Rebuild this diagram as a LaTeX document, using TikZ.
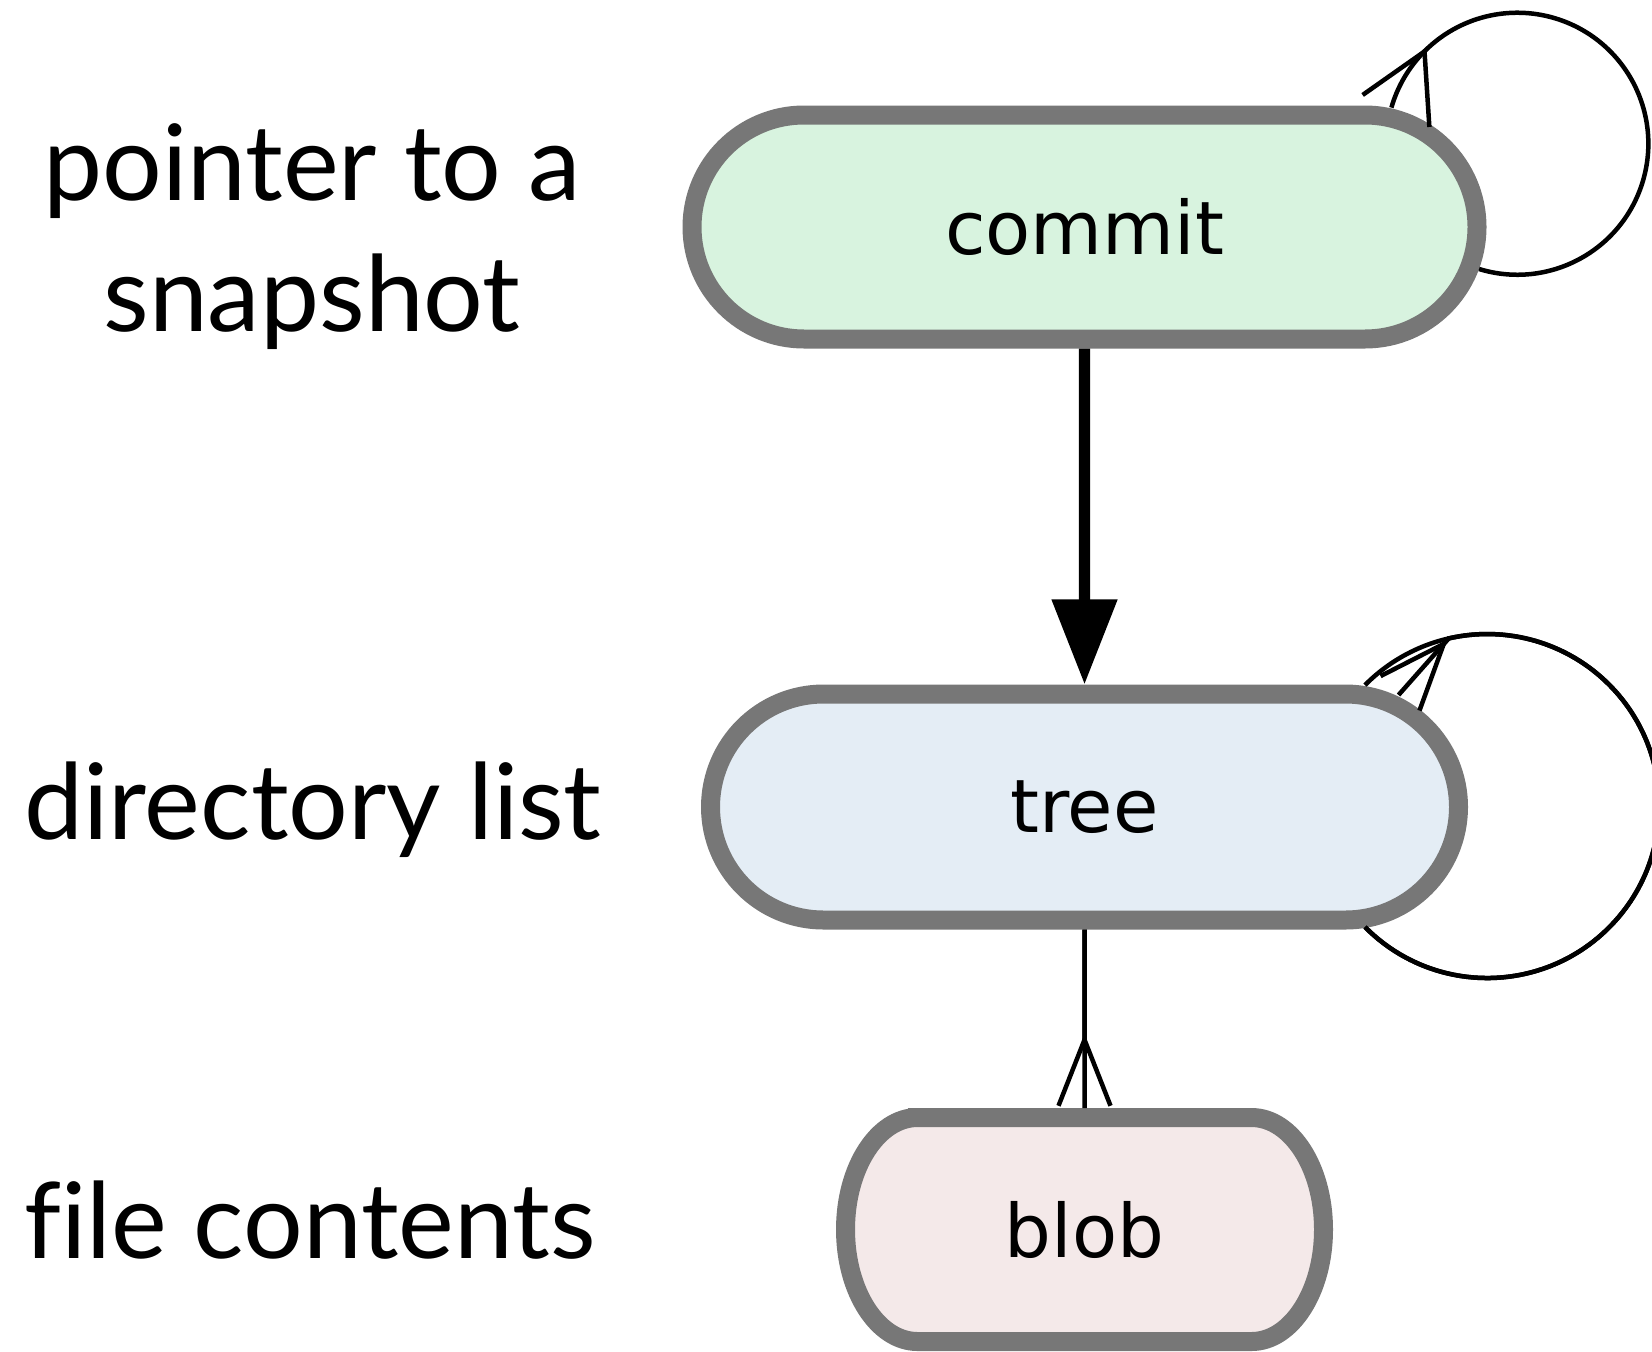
\documentclass[tikz,border=0pt]{standalone}
\usepackage{fontspec}
\setmainfont{Lato}[Ligatures=NoCommon]
\newfontfamily\objfont{DejaVu Sans}
\usetikzlibrary{arrows.meta,bending,positioning,shapes.misc,backgrounds}
\definecolor{objGray}{HTML}{777777}
\definecolor{commitFill}{HTML}{D8F3DF}
\definecolor{treeFill}{HTML}{E4EDF5}
\definecolor{blobFill}{HTML}{F4E9E9}

\begin{document}
\begin{tikzpicture}[
  obj/.style={rounded rectangle, draw=objGray, line width=0.19cm, inner sep=0pt,
    font=\objfont\fontsize{21}{25}\selectfont},
  blobbox/.style={rectangle, inner sep=0pt, outer sep=0pt,
    font=\objfont\fontsize{21}{25}\selectfont,
    path picture={
      \draw[draw=objGray, fill=blobFill, line width=0.19cm]
        ([xshift=0.815cm, yshift=-0.095cm]path picture bounding box.north west)
        -- ([xshift=-0.815cm, yshift=-0.095cm]path picture bounding box.north east)
        arc[start angle=90, end angle=-90, x radius=0.72cm, y radius=1.12cm]
        -- ([xshift=0.815cm, yshift=0.095cm]path picture bounding box.south west)
        arc[start angle=270, end angle=90, x radius=0.72cm, y radius=1.12cm]
        -- cycle;
    }},
  lbl/.style={font=\fontsize{30}{37.3}\selectfont, align=center},
  hasone/.style={-{Triangle[length=0.85cm,width=0.63cm]}, line width=0.113cm},
  plain/.style={line width=0.045cm},
  crow/.style={plain, -{Straight Barb[reversed,sharp,length=0.66cm,width=#1]}},
  crow/.default=0.52cm,
  many/.style={crow=#1, postaction={draw, -}},
  many/.default=0.52cm,
]
\useasboundingbox (0,0) rectangle (16.52,-13.51);

% objects
\node[obj, fill=commitFill, minimum width=7.85cm, minimum height=2.24cm] (commit) at (10.845,-2.27) {commit};
\node[obj, fill=treeFill, minimum width=7.48cm, minimum height=2.26cm] (tree) at (10.845,-8.07) {tree};
\node[blobbox, minimum width=4.97cm, minimum height=2.43cm] (blob) at (10.845,-12.295) {blob};

% what they stand for
\node[lbl] (snaplbl) at (3.12,-2.37) {pointer to a\\snapshot};
\node[lbl, anchor=base] (dirlbl) at (3.13,-8.39) {directory list};
\node[lbl, anchor=base] (filelbl) at (3.10,-12.58) {file contents};

% links
\draw[hasone] (commit) -- (tree);
\draw[many] (tree) -- (blob);
\draw[crow=0.74cm] ([shift={(-0.075,-0.42)}]commit.east) arc[start angle=-107, end angle=135, radius=1.31]
  coordinate (commitjoin) -- ([shift={(-0.915,1.14)}]commit.east);
\draw[plain] (commitjoin) arc[start angle=135, end angle=164, radius=1.31];
\draw[many] ([shift={(-1.03,-1.20)}]tree.east) arc[start angle=-135.3, end angle=103, radius=1.72]
  coordinate (treejoin) -- ([shift={(-0.695,1.12)}]tree.east);
\draw[plain] (treejoin) arc[start angle=103, end angle=135.3, radius=1.72];
\end{tikzpicture}
\end{document}
